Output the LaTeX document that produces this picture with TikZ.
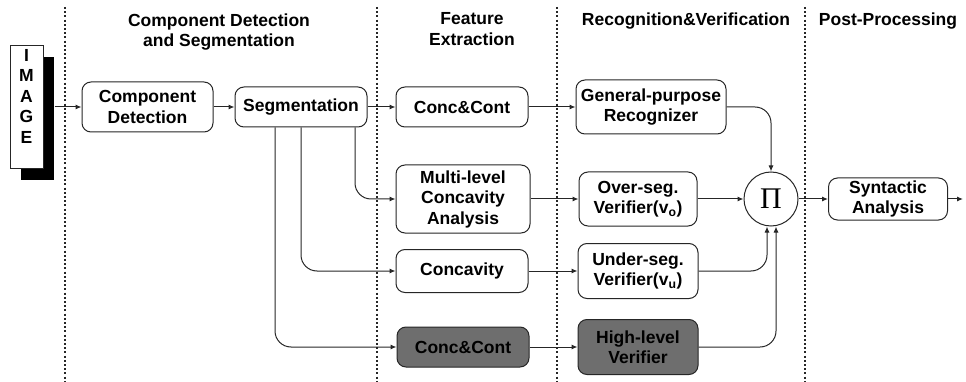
\documentclass[tikz,border=0pt]{standalone}
\usepackage{fontspec}
\setmainfont{Liberation Sans}
\newfontfamily\pifont{Liberation Serif}
\usepackage{tikz}
\usetikzlibrary{arrows.meta,positioning,shadows}

\begin{document}
\begin{tikzpicture}[x=1pt,y=-1pt,
  font=\bfseries\fontsize{17.5}{20.5}\selectfont,
  >={Latex[length=6pt,width=5pt]},line width=1pt,
  box/.style={draw=black!85,rounded corners=9pt,align=center,inner sep=0pt,fill=white},
  dark/.style={box,fill=black!57},
  sep/.style={black!85,line width=1.2pt,dash pattern=on 2pt off 2.2pt},
  arr/.style={->,draw=black!85,rounded corners=16pt},
  head/.style={align=center}]
  \useasboundingbox (0,0) rectangle (966,382);
  \foreach \x in {65,377,557,805}
    \draw[sep] (\x,7) -- (\x,382);
  \node[head] (hcds) at (219,32) {Component Detection\\and Segmentation};
  \node[head] (hfe) at (472,29) {Feature\\Extraction};
  \node[head] (hrv) at (686,21) {Recognition\&Verification};
  \node[head] (hpp) at (888,21) {Post-Processing};
  \node[draw=black!85,fill=white,minimum width=33pt,minimum height=123pt,
    drop shadow={shadow xshift=10.5pt,shadow yshift=-12pt,fill=black,opacity=1}] (img) at (26.5,107) {};
  \node[align=center,inner sep=0pt] (imgl) at (26.5,96) {I\\M\\A\\G\\E};
  \node[box,minimum width=131pt,minimum height=50pt] (cdet) at (147.5,107) {Component\\Detection};
  \node[box,minimum width=132pt,minimum height=40pt] (seg) at (301,107) {Segmentation};
  \node[box,minimum width=132pt,minimum height=40pt] (cc1) at (462,107) {Conc\&Cont};
  \node[box,minimum width=150pt,minimum height=54pt] (gpr) at (651,107) {General-purpose\\Recognizer};
  \node[box,minimum width=134pt,minimum height=68pt] (mlca) at (463,199) {Multi-level\\Concavity\\Analysis};
  \node[box,minimum width=118pt,minimum height=54pt] (ovs) at (638,199) {Over-seg.\\Verifier(v\textsubscript{o})};
  \node[circle,draw=black!85,fill=white,minimum size=54pt,inner sep=0pt,
    font=\pifont\fontsize{30}{30}\selectfont] (pi) at (771,199) {Π};
  \node[box,minimum width=119pt,minimum height=42pt] (syn) at (888,199) {Syntactic\\Analysis};
  \node[box,minimum width=132pt,minimum height=43pt] (conc) at (462,271) {Concavity};
  \node[box,minimum width=120pt,minimum height=55pt] (uns) at (638,271) {Under-seg.\\Verifier(v\textsubscript{u})};
  \node[dark,minimum width=132pt,minimum height=40pt] (cc2) at (463,347) {Conc\&Cont};
  \node[dark,minimum width=120pt,minimum height=55pt] (hlv) at (638,347) {High-level\\Verifier};
  \coordinate (out) at (963,199);
  \draw[arr] (img.east) ++(11,0) -- (cdet.west);
  \draw[arr] (cdet) -- (seg);
  \draw[arr] (seg) -- (cc1);
  \draw[arr] (cc1) -- (gpr);
  \draw[arr] ([xshift=54pt]seg.south) |- (mlca);
  \draw[arr] (seg.south) |- (conc);
  \draw[arr] ([xshift=-26pt]seg.south) |- (cc2);
  \draw[arr] (mlca) -- (ovs);
  \draw[arr] (conc) -- (uns);
  \draw[arr] (cc2) -- (hlv);
  \draw[arr] (gpr) -| (pi);
  \draw[arr] (ovs) -- (pi);
  \draw[arr] (uns) -| ([xshift=-4pt]pi.south);
  \draw[arr] (hlv) -| ([xshift=5pt]pi.south);
  \draw[arr] (pi) -- (syn);
  \draw[arr] (syn) -- (out);
\end{tikzpicture}
\end{document}
